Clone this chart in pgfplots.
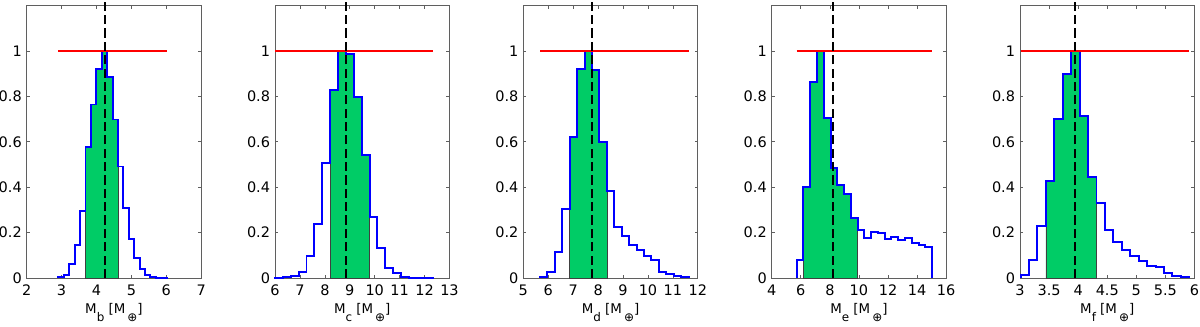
\documentclass[border=0pt]{standalone}
\usepackage{fontspec}
\setmainfont{DejaVu Sans}
\usepackage{pgfplots}
\pgfplotsset{compat=1.18}
\usepackage{pgfplotstable}
\definecolor{mgreen}{RGB}{0,204,102}
\definecolor{axgray}{RGB}{95,95,95}

\newcommand{\lsub}[1]{\raisebox{-0.62em}{\fontsize{8.5}{8.5}\selectfont #1}}
\newcommand{\mlabel}[1]{M\lsub{#1} [M\hspace{1.5pt}\lsub{⊕}]}

\pgfplotstableread{
x y
2.91 0
2.91 0.003
3.065 0.015
3.22 0.063
3.375 0.147
3.53 0.296
3.685 0.575
3.84 0.764
3.995 0.919
4.15 1.0
4.305 0.886
4.46 0.698
4.615 0.491
4.77 0.307
4.925 0.171
5.08 0.088
5.235 0.041
5.39 0.012
5.545 0.005
5.70 0.002
5.855 0.002
6.01 0.002
6.01 0
}\histb
\pgfplotstableread{
x y
6.0 0
6.0 0.002
6.316 0.003
6.632 0.010
6.948 0.027
7.264 0.099
7.58 0.239
7.896 0.507
8.212 0.830
8.528 1.0
8.844 0.988
9.16 0.795
9.476 0.541
9.792 0.268
10.108 0.131
10.424 0.046
10.74 0.020
11.056 0.005
11.372 0.002
11.688 0.002
12.004 0.002
12.32 0.002
12.32 0
}\histc
\pgfplotstableread{
x y
5.67 0
5.67 0.003
5.968 0.025
6.266 0.116
6.564 0.305
6.862 0.619
7.16 0.919
7.458 1.0
7.756 0.916
8.054 0.599
8.352 0.381
8.65 0.224
8.948 0.187
9.246 0.145
9.544 0.125
9.842 0.096
10.14 0.078
10.438 0.027
10.736 0.018
11.034 0.007
11.332 0.003
11.63 0.003
11.63 0
}\histd
\pgfplotstableread{
x y
5.72 0
5.72 0.081
6.1855 0.40
6.651 0.865
7.1165 1.0
7.582 0.705
8.0475 0.485
8.513 0.41
8.9785 0.37
9.444 0.263
9.9095 0.21
10.375 0.178
10.8405 0.202
11.306 0.198
11.7715 0.17
12.237 0.181
12.7025 0.169
13.168 0.175
13.6335 0.155
14.099 0.146
14.5645 0.138
15.03 0.138
15.03 0
}\histe
\pgfplotstableread{
x y
3.01 0
3.01 0.012
3.155 0.08
3.30 0.23
3.445 0.429
3.59 0.70
3.735 0.898
3.88 1.0
4.025 0.714
4.17 0.445
4.315 0.330
4.46 0.211
4.605 0.158
4.75 0.125
4.895 0.096
5.04 0.075
5.185 0.052
5.33 0.048
5.475 0.022
5.62 0.007
5.765 0.003
5.91 0.003
5.91 0
}\histf

\pgfplotsset{
  histax/.style={
    scale only axis, width=43.625mm, height=68.125mm,
    anchor=south west,
    ymin=0, ymax=1.2, ytick={0,0.2,0.4,0.6,0.8,1},
    tick align=inside, xtick pos=both, ytick pos=both,
    major tick length=2.2pt,
    axis line style={axgray, line width=0.5pt},
    every tick/.style={axgray, line width=0.5pt},
    tick label style={font=\fontsize{10.3}{12}\selectfont, black},
    xticklabel style={anchor=base, yshift=-4.5mm},
    label style={font=\fontsize{9.5}{11}\selectfont, black},
    xlabel style={at={(axis description cs:0.5,0)}, anchor=base, yshift=-8.85mm},
    /pgf/number format/assume math mode=true,
    clip=false,
  },
  greenfill/.style={fill=mgreen, draw=black!75, line width=0.5pt, const plot mark left},
  bluehist/.style={blue, line width=1.4pt, const plot mark left},
  redline/.style={red, line width=1pt},
  medline/.style={black, line width=1.4pt, dash pattern=on 6.5pt off 3pt},
}

\begin{document}
\begin{tikzpicture}
\path[use as bounding box] (0,0) rectangle (300mm,81.75mm);

\begin{axis}[histax, at={(6.675mm,12.25mm)}, xmin=2, xmax=7, xtick={2,3,4,5,6,7},
  xlabel={\mlabel{b}}]
\addplot[greenfill, restrict x to domain=3.684:4.616] table {\histb} \closedcycle;
\addplot[bluehist] table {\histb};
\addplot[redline] coordinates {(2.91,1) (6.01,1)};
\addplot[medline] coordinates {(4.24,0) (4.24,1.23)};
\end{axis}

\begin{axis}[histax, at={(68.75mm,12.25mm)}, xmin=6, xmax=13, xtick={6,7,8,9,10,11,12,13},
  xlabel={\mlabel{c}}]
\addplot[greenfill, restrict x to domain=8.211:9.793] table {\histc} \closedcycle;
\addplot[bluehist] table {\histc};
\addplot[redline] coordinates {(6.0,1) (12.32,1)};
\addplot[medline] coordinates {(8.86,0) (8.86,1.23)};
\end{axis}

\begin{axis}[histax, at={(130.83mm,12.25mm)}, xmin=5, xmax=12, xtick={5,6,7,8,9,10,11,12},
  xlabel={\mlabel{d}}]
\addplot[greenfill, restrict x to domain=6.861:8.353] table {\histd} \closedcycle;
\addplot[bluehist] table {\histd};
\addplot[redline] coordinates {(5.67,1) (11.63,1)};
\addplot[medline] coordinates {(7.74,0) (7.74,1.23)};
\end{axis}

\begin{axis}[histax, at={(192.92mm,12.25mm)}, xmin=4, xmax=16, xtick={4,6,8,10,12,14,16},
  xlabel={\mlabel{e}}]
\addplot[greenfill, restrict x to domain=6.185:9.91] table {\histe} \closedcycle;
\addplot[bluehist] table {\histe};
\addplot[redline] coordinates {(5.72,1) (15.03,1)};
\addplot[medline] coordinates {(8.22,0) (8.22,1.23)};
\end{axis}

\begin{axis}[histax, at={(255mm,12.25mm)}, xmin=3, xmax=6, xtick={3,3.5,4,4.5,5,5.5,6},
  xlabel={\mlabel{f}}]
\addplot[greenfill, restrict x to domain=3.444:4.316] table {\histf} \closedcycle;
\addplot[bluehist] table {\histf};
\addplot[redline] coordinates {(3.01,1) (5.91,1)};
\addplot[medline] coordinates {(3.95,0) (3.95,1.23)};
\end{axis}
\end{tikzpicture}
\end{document}
